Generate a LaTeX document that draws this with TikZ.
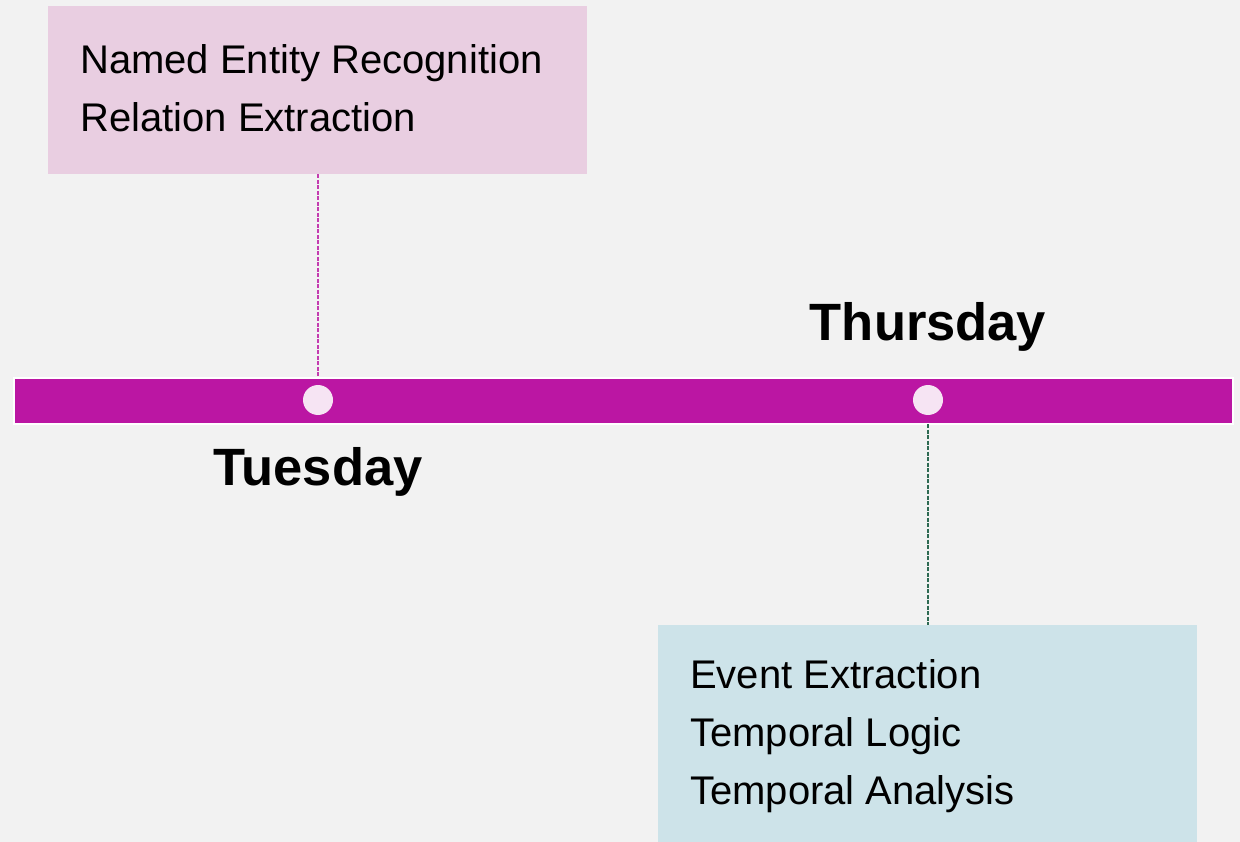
\documentclass[tikz,border=0pt]{standalone}
\usepackage{fontspec}
\setmainfont{Liberation Sans}
\definecolor{bg}{HTML}{F2F2F2}
\definecolor{barc}{HTML}{BB16A3}
\definecolor{dotc}{HTML}{F6E4F3}
\definecolor{pinkbox}{HTML}{E9CEE1}
\definecolor{bluebox}{HTML}{CDE3E9}
\definecolor{pinkline}{HTML}{C43CB0}
\definecolor{greenline}{HTML}{2E6A52}
\tikzset{
  itemtext/.style={anchor=base west, inner sep=0pt, font=\fontsize{40}{48}\selectfont},
  daytext/.style={anchor=base, inner sep=0pt, font=\fontsize{52.5}{60}\selectfont\bfseries},
  dotnode/.style={circle, fill=dotc, minimum size=30pt, inner sep=0pt},
  conn/.style={line width=1.4pt, dash pattern=on 4pt off 1.5pt},
}
\begin{document}
\begin{tikzpicture}[x=1pt,y=-1pt]
\useasboundingbox (0,0) rectangle (1240,842);
\fill[bg] (0,0) rectangle (1240,842);
% boxes
\node[draw=none, fill=pinkbox, minimum width=539pt, minimum height=168pt, inner sep=0pt, anchor=north west] (topbox) at (48,6) {};
\node[draw=none, fill=bluebox, minimum width=539pt, minimum height=217pt, inner sep=0pt, anchor=north west] (botbox) at (658,625) {};
% bar
\node[draw=white, line width=2pt, fill=barc, minimum width=1219pt, minimum height=46pt, inner sep=0pt, anchor=north west] (bar) at (13,377) {};
% dots
\node[dotnode] (d1) at (318,400) {};
\node[dotnode] (d2) at (928,400) {};
% connectors
\coordinate (c1) at (318,376);
\coordinate (c2) at (928,424);
\draw[conn, pinkline] (topbox.south -| d1) -- (c1);
\draw[conn, greenline] (c2) -- (botbox.north -| d2);
% texts
\node[itemtext] (t1) at (80,74) {Named Entity Recognition};
\node[itemtext] (t2) at (80,132) {Relation Extraction};
\node[itemtext] (t3) at (690,688) {Event Extraction};
\node[itemtext] (t4) at (690,746) {Temporal Logic};
\node[itemtext] (t5) at (690,804) {Temporal Analysis};
\node[daytext] (thu) at (928,341) {Thursday};
\node[daytext] (tue) at (318,485) {Tuesday};
\end{tikzpicture}
\end{document}
